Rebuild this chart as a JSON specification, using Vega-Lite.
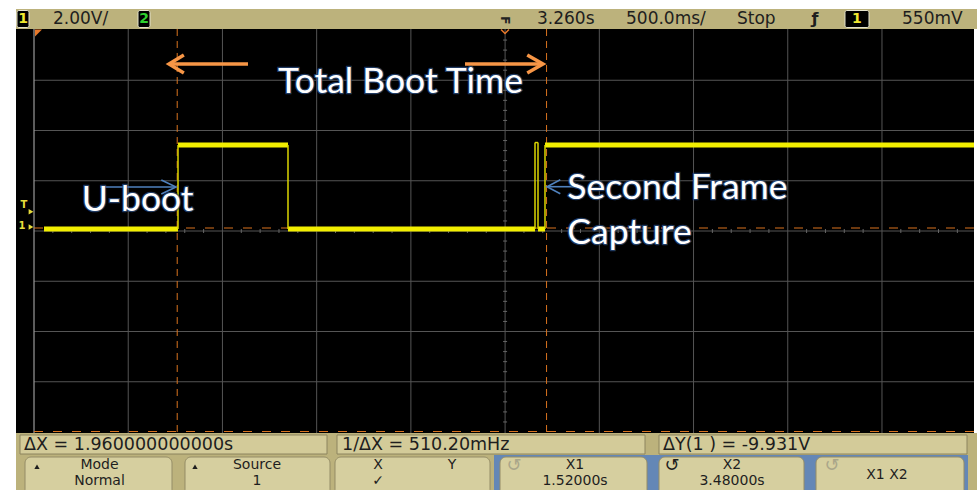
{
  "$schema": "https://vega.github.io/schema/vega-lite/v6.json",
  "width": 977,
  "height": 490,
  "autosize": {"type": "none"},
  "padding": 0,
  "background": "#ffffff",
  "config": {"view": {"stroke": null}},
  "datasets": {
    "bars": [
      {"t": 0.66448, "t2": 5.76424, "v": 8.756, "v2": 7.960},
      {"t": 0.66448, "t2": 5.76424, "v": -8.120, "v2": -10.6}
    ],
    "screen": [{"t": 0.66448, "t2": 5.74833, "v": 7.960, "v2": -8.120}],
    "grid": [
      {"t": 1.26, "t2": 1.26, "v": -8.12, "v2": 7.96},
      {"t": 1.76, "t2": 1.76, "v": -8.12, "v2": 7.96},
      {"t": 2.26, "t2": 2.26, "v": -8.12, "v2": 7.96},
      {"t": 2.76, "t2": 2.76, "v": -8.12, "v2": 7.96},
      {"t": 3.26, "t2": 3.26, "v": -8.12, "v2": 7.96},
      {"t": 3.76, "t2": 3.76, "v": -8.12, "v2": 7.96},
      {"t": 4.26, "t2": 4.26, "v": -8.12, "v2": 7.96},
      {"t": 4.76, "t2": 4.76, "v": -8.12, "v2": 7.96},
      {"t": 5.26, "t2": 5.26, "v": -8.12, "v2": 7.96},
      {"t": 0.76, "t2": 5.748, "v": -6.08, "v2": -6.08},
      {"t": 0.76, "t2": 5.748, "v": -4.08, "v2": -4.08},
      {"t": 0.76, "t2": 5.748, "v": -2.08, "v2": -2.08},
      {"t": 0.76, "t2": 5.748, "v": -0.08, "v2": -0.08},
      {"t": 0.76, "t2": 5.748, "v": 1.92, "v2": 1.92},
      {"t": 0.76, "t2": 5.748, "v": 3.92, "v2": 3.92},
      {"t": 0.76, "t2": 5.748, "v": 5.92, "v2": 5.92}
    ],
    "border": [{"t": 0.76, "t2": 0.76, "v": -8.12, "v2": 7.96}],
    "ticks": [
      {"t": 0.86, "t2": 0.86, "v": -0.16, "v2": 0.0},
      {"t": 0.96, "t2": 0.96, "v": -0.16, "v2": 0.0},
      {"t": 1.06, "t2": 1.06, "v": -0.16, "v2": 0.0},
      {"t": 1.16, "t2": 1.16, "v": -0.16, "v2": 0.0},
      {"t": 1.36, "t2": 1.36, "v": -0.16, "v2": 0.0},
      {"t": 1.46, "t2": 1.46, "v": -0.16, "v2": 0.0},
      {"t": 1.56, "t2": 1.56, "v": -0.16, "v2": 0.0},
      {"t": 1.66, "t2": 1.66, "v": -0.16, "v2": 0.0},
      {"t": 1.86, "t2": 1.86, "v": -0.16, "v2": 0.0},
      {"t": 1.96, "t2": 1.96, "v": -0.16, "v2": 0.0},
      {"t": 2.06, "t2": 2.06, "v": -0.16, "v2": 0.0},
      {"t": 2.16, "t2": 2.16, "v": -0.16, "v2": 0.0},
      {"t": 2.36, "t2": 2.36, "v": -0.16, "v2": 0.0},
      {"t": 2.46, "t2": 2.46, "v": -0.16, "v2": 0.0},
      {"t": 2.56, "t2": 2.56, "v": -0.16, "v2": 0.0},
      {"t": 2.66, "t2": 2.66, "v": -0.16, "v2": 0.0},
      {"t": 2.86, "t2": 2.86, "v": -0.16, "v2": 0.0},
      {"t": 2.96, "t2": 2.96, "v": -0.16, "v2": 0.0},
      {"t": 3.06, "t2": 3.06, "v": -0.16, "v2": 0.0},
      {"t": 3.16, "t2": 3.16, "v": -0.16, "v2": 0.0},
      {"t": 3.36, "t2": 3.36, "v": -0.16, "v2": 0.0},
      {"t": 3.46, "t2": 3.46, "v": -0.16, "v2": 0.0},
      {"t": 3.56, "t2": 3.56, "v": -0.16, "v2": 0.0},
      {"t": 3.66, "t2": 3.66, "v": -0.16, "v2": 0.0},
      {"t": 3.86, "t2": 3.86, "v": -0.16, "v2": 0.0},
      {"t": 3.96, "t2": 3.96, "v": -0.16, "v2": 0.0},
      {"t": 4.06, "t2": 4.06, "v": -0.16, "v2": 0.0},
      {"t": 4.16, "t2": 4.16, "v": -0.16, "v2": 0.0},
      {"t": 4.36, "t2": 4.36, "v": -0.16, "v2": 0.0},
      {"t": 4.46, "t2": 4.46, "v": -0.16, "v2": 0.0},
      {"t": 4.56, "t2": 4.56, "v": -0.16, "v2": 0.0},
      {"t": 4.66, "t2": 4.66, "v": -0.16, "v2": 0.0},
      {"t": 4.86, "t2": 4.86, "v": -0.16, "v2": 0.0},
      {"t": 4.96, "t2": 4.96, "v": -0.16, "v2": 0.0},
      {"t": 5.06, "t2": 5.06, "v": -0.16, "v2": 0.0},
      {"t": 5.16, "t2": 5.16, "v": -0.16, "v2": 0.0},
      {"t": 5.36, "t2": 5.36, "v": -0.16, "v2": 0.0},
      {"t": 5.46, "t2": 5.46, "v": -0.16, "v2": 0.0},
      {"t": 5.56, "t2": 5.56, "v": -0.16, "v2": 0.0},
      {"t": 5.66, "t2": 5.66, "v": -0.16, "v2": 0.0},
      {"t": 3.2494, "t2": 3.2706, "v": -7.68, "v2": -7.68},
      {"t": 3.2494, "t2": 3.2706, "v": -7.28, "v2": -7.28},
      {"t": 3.2494, "t2": 3.2706, "v": -6.88, "v2": -6.88},
      {"t": 3.2494, "t2": 3.2706, "v": -6.48, "v2": -6.48},
      {"t": 3.2494, "t2": 3.2706, "v": -5.68, "v2": -5.68},
      {"t": 3.2494, "t2": 3.2706, "v": -5.28, "v2": -5.28},
      {"t": 3.2494, "t2": 3.2706, "v": -4.88, "v2": -4.88},
      {"t": 3.2494, "t2": 3.2706, "v": -4.48, "v2": -4.48},
      {"t": 3.2494, "t2": 3.2706, "v": -3.68, "v2": -3.68},
      {"t": 3.2494, "t2": 3.2706, "v": -3.28, "v2": -3.28},
      {"t": 3.2494, "t2": 3.2706, "v": -2.88, "v2": -2.88},
      {"t": 3.2494, "t2": 3.2706, "v": -2.48, "v2": -2.48},
      {"t": 3.2494, "t2": 3.2706, "v": -1.68, "v2": -1.68},
      {"t": 3.2494, "t2": 3.2706, "v": -1.28, "v2": -1.28},
      {"t": 3.2494, "t2": 3.2706, "v": -0.88, "v2": -0.88},
      {"t": 3.2494, "t2": 3.2706, "v": -0.48, "v2": -0.48},
      {"t": 3.2494, "t2": 3.2706, "v": 0.32, "v2": 0.32},
      {"t": 3.2494, "t2": 3.2706, "v": 0.72, "v2": 0.72},
      {"t": 3.2494, "t2": 3.2706, "v": 1.12, "v2": 1.12},
      {"t": 3.2494, "t2": 3.2706, "v": 1.52, "v2": 1.52},
      {"t": 3.2494, "t2": 3.2706, "v": 2.32, "v2": 2.32},
      {"t": 3.2494, "t2": 3.2706, "v": 2.72, "v2": 2.72},
      {"t": 3.2494, "t2": 3.2706, "v": 3.12, "v2": 3.12},
      {"t": 3.2494, "t2": 3.2706, "v": 3.52, "v2": 3.52},
      {"t": 3.2494, "t2": 3.2706, "v": 4.32, "v2": 4.32},
      {"t": 3.2494, "t2": 3.2706, "v": 4.72, "v2": 4.72},
      {"t": 3.2494, "t2": 3.2706, "v": 5.12, "v2": 5.12},
      {"t": 3.2494, "t2": 3.2706, "v": 5.52, "v2": 5.52},
      {"t": 3.2494, "t2": 3.2706, "v": 6.32, "v2": 6.32},
      {"t": 3.2494, "t2": 3.2706, "v": 6.72, "v2": 6.72},
      {"t": 3.2494, "t2": 3.2706, "v": 7.12, "v2": 7.12},
      {"t": 3.2494, "t2": 3.2706, "v": 7.52, "v2": 7.52}
    ],
    "cursorsV": [
      {"t": 1.52, "t2": 1.52, "v": 7.96, "v2": -8.12},
      {"t": 3.48, "t2": 3.48, "v": 7.96, "v2": -8.12}
    ],
    "cursorsH": [
      {"t": 0.76, "t2": 5.748, "v": 0.04, "v2": 0.04},
      {"t": 0.76, "t2": 5.748, "v": -8.06, "v2": -8.06}
    ],
    "traceFlat": [
      {"t": 0.8131, "t2": 1.5242, "v": 0.0, "v2": 0.0},
      {"t": 1.5242, "t2": 2.1079, "v": 3.343, "v2": 3.343},
      {"t": 2.1079, "t2": 3.4187, "v": 0.0, "v2": 0.0},
      {"t": 3.4346, "t2": 3.4717, "v": 0.0, "v2": 0.0},
      {"t": 3.4717, "t2": 5.7483, "v": 3.343, "v2": 3.343}
    ],
    "traceEdge": [
      {"t": 1.5242, "t2": 1.5242, "v": 0.0, "v2": 3.343},
      {"t": 2.1079, "t2": 2.1079, "v": 3.343, "v2": 0.0},
      {"t": 3.4187, "t2": 3.4187, "v": 0.0, "v2": 3.44},
      {"t": 3.4187, "t2": 3.4346, "v": 3.44, "v2": 3.44},
      {"t": 3.4346, "t2": 3.4346, "v": 3.44, "v2": 0.0},
      {"t": 3.4717, "t2": 3.4717, "v": 0.0, "v2": 3.343}
    ],
    "leftMarks": [
      {"t": 0.70693, "v": 0.96, "label": "T"},
      {"t": 0.69632, "v": 0.10, "label": "1"}
    ],
    "leftArrows": [
      {"t": 0.74408, "v": 0.69},
      {"t": 0.74408, "v": 0.08}
    ],
    "corner": [{"t": 0.7653, "v": 7.94}],
    "refMark": [{"t": 3.25948, "v": 7.86}],
    "refGlyph": [{"t": 3.25948, "v": 8.30, "label": "F"}],
    "orangeLines": [
      {"t": 1.4923, "t2": 1.8956, "v": 6.567, "v2": 6.567},
      {"t": 3.0472, "t2": 3.4505, "v": 6.567, "v2": 6.567}
    ],
    "orangeHeadL": [{"t": 1.4764, "v": 6.567}],
    "orangeHeadR": [{"t": 3.4611, "v": 6.567}],
    "blueLines": [
      {"t": 1.11024, "t2": 1.50826, "v": 1.671, "v2": 1.671},
      {"t": 3.48765, "t2": 3.63094, "v": 1.683, "v2": 1.683}
    ],
    "blueHeadR": [{"t": 1.51356, "v": 1.671}],
    "blueHeadL": [{"t": 3.48234, "v": 1.683}],
    "notes": [
      {"t": 2.05484, "v": 5.424, "label": "Total Boot Time"},
      {"t": 1.01313, "v": 0.716, "label": "U-boot"},
      {"t": 3.59009, "v": 1.182, "label": "Second Frame"},
      {"t": 3.59009, "v": -0.597, "label": "Capture"}
    ],
    "topBoxes": [
      {"t": 0.66978, "t2": 0.73347, "v": 8.696, "v2": 8.019},
      {"t": 1.3119, "t2": 1.37558, "v": 8.696, "v2": 8.019},
      {"t": 5.06372, "t2": 5.19108, "v": 8.696, "v2": 8.019}
    ],
    "topNums": [
      {"t": 0.70163, "v": 8.358, "label": "1", "channel": "1"},
      {"t": 1.34374, "v": 8.358, "label": "2", "channel": "2"},
      {"t": 5.1274, "v": 8.358, "label": "1", "channel": "1"}
    ],
    "topText": [
      {"t": 0.86083, "v": 8.338, "label": "2.00V/"},
      {"t": 3.42932, "v": 8.338, "label": "3.260s"},
      {"t": 3.90158, "v": 8.338, "label": "500.0ms/"},
      {"t": 4.49063, "v": 8.338, "label": "Stop"},
      {"t": 5.36621, "v": 8.338, "label": "550mV"}
    ],
    "slope": [{"t": 4.9043, "v": 8.358, "label": "ƒ"}],
    "measBoxes": [
      {"t": 0.68571, "t2": 2.31488, "v": -8.199, "v2": -8.956},
      {"t": 2.36795, "t2": 4.00243, "v": -8.199, "v2": -8.956},
      {"t": 4.07672, "t2": 5.71122, "v": -8.199, "v2": -8.956}
    ],
    "measText": [
      {"t": 0.70693, "v": -8.578, "label": "ΔX = 1.960000000000s"},
      {"t": 2.39448, "v": -8.578, "label": "1/ΔX = 510.20mHz"},
      {"t": 4.09795, "v": -8.578, "label": "ΔY(1 ) = -9.931V"}
    ],
    "frame": [{"t": 3.20111, "t2": 5.71652, "v": -8.995, "v2": -10.6}],
    "buttons": [
      {"t": 0.71224, "t2": 1.49233, "v": -9.075, "v2": -10.6},
      {"t": 1.5613, "t2": 2.33079, "v": -9.075, "v2": -10.6},
      {"t": 2.35732, "t2": 3.17988, "v": -9.075, "v2": -10.6},
      {"t": 3.23295, "t2": 4.01304, "v": -9.075, "v2": -10.6},
      {"t": 4.07672, "t2": 4.84623, "v": -9.075, "v2": -10.6},
      {"t": 4.90991, "t2": 5.6953, "v": -9.075, "v2": -10.6}
    ],
    "buttonText": [
      {"t": 1.10759, "v": -9.393, "label": "Mode"},
      {"t": 1.10759, "v": -10.03, "label": "Normal"},
      {"t": 1.9434, "v": -9.393, "label": "Source"},
      {"t": 1.9434, "v": -10.03, "label": "1"},
      {"t": 2.58551, "v": -9.393, "label": "X"},
      {"t": 2.97821, "v": -9.393, "label": "Y"},
      {"t": 2.58551, "v": -10.03, "label": "✓"},
      {"t": 3.63094, "v": -9.393, "label": "X1"},
      {"t": 3.63094, "v": -10.03, "label": "1.52000s"},
      {"t": 4.46409, "v": -9.393, "label": "X2"},
      {"t": 4.46409, "v": -10.03, "label": "3.48000s"},
      {"t": 5.28664, "v": -9.791, "label": "X1 X2"}
    ],
    "iconsOff": [
      {"t": 3.30723, "v": -9.43, "label": "↺"},
      {"t": 4.99477, "v": -9.43, "label": "↺"}
    ],
    "iconsOn": [
      {"t": 4.14569, "v": -9.43, "label": "↺"}
    ],
    "ups": [
      {"t": 0.77592, "v": -9.46},
      {"t": 1.61438, "v": -9.46}
    ]
  },
  "encoding": {
    "x": {"field": "t", "type": "quantitative", "scale": {"domain": [0.57957, 5.76424], "nice": false, "zero": false}, "axis": null},
    "y": {"field": "v", "type": "quantitative", "scale": {"domain": [-10.388, 9.114], "nice": false, "zero": false}, "axis": null}
  },
  "layer": [
    {"data": {"name": "bars"}, "mark": {"type": "rect", "fill": "#bcb27c"}, "encoding": {"x2": {"field": "t2"}, "y2": {"field": "v2"}}},
    {"data": {"name": "screen"}, "mark": {"type": "rect", "fill": "#000000"}, "encoding": {"x2": {"field": "t2"}, "y2": {"field": "v2"}}},
    {"data": {"name": "grid"}, "mark": {"type": "rule", "stroke": "#555555", "strokeWidth": 1}, "encoding": {"x2": {"field": "t2"}, "y2": {"field": "v2"}}},
    {"data": {"name": "border"}, "mark": {"type": "rule", "stroke": "#9a9a9a", "strokeWidth": 1.2}, "encoding": {"x2": {"field": "t2"}, "y2": {"field": "v2"}}},
    {"data": {"name": "ticks"}, "mark": {"type": "rule", "stroke": "#666666", "strokeWidth": 1}, "encoding": {"x2": {"field": "t2"}, "y2": {"field": "v2"}}},
    {"data": {"name": "cursorsV"}, "mark": {"type": "rule", "stroke": "#d9731f", "strokeWidth": 1, "strokeDash": [7, 5]}, "encoding": {"x2": {"field": "t2"}, "y2": {"field": "v2"}}},
    {"data": {"name": "cursorsH"}, "mark": {"type": "rule", "stroke": "#d9731f", "strokeWidth": 1.2, "strokeDash": [9, 10]}, "encoding": {"x2": {"field": "t2"}, "y2": {"field": "v2"}}},
    {"data": {"name": "traceFlat"}, "mark": {"type": "rule", "stroke": "#f2ee00", "strokeWidth": 5}, "encoding": {"x2": {"field": "t2"}, "y2": {"field": "v2"}}},
    {"data": {"name": "traceEdge"}, "mark": {"type": "rule", "stroke": "#dcd600", "strokeWidth": 1.5}, "encoding": {"x2": {"field": "t2"}, "y2": {"field": "v2"}}},
    {"data": {"name": "leftMarks"}, "mark": {"type": "text", "font": "DejaVu Sans", "fontSize": 10, "fontWeight": "bold", "fill": "#e6dc3c", "align": "center", "baseline": "middle"}, "encoding": {"text": {"field": "label"}}},
    {"data": {"name": "leftArrows"}, "mark": {"type": "point", "shape": "triangle-right", "size": 30, "filled": true, "fill": "#e6dc3c", "opacity": 1}},
    {"data": {"name": "corner"}, "mark": {"type": "point", "shape": "M 0 0 L 1 0 L 0 1 Z", "size": 196, "filled": true, "fill": "#e8782a", "opacity": 1}},
    {"data": {"name": "refMark"}, "mark": {"type": "point", "shape": "M -1 -0.5 L 0 0.5 L 1 -0.5", "size": 64, "filled": false, "stroke": "#e8782a", "strokeWidth": 1.5, "opacity": 1}},
    {"data": {"name": "refGlyph"}, "mark": {"type": "text", "font": "DejaVu Sans", "fontSize": 12, "fontWeight": "bold", "fill": "#222222", "angle": 90, "align": "center", "baseline": "middle"}, "encoding": {"text": {"field": "label"}}},
    {"data": {"name": "orangeLines"}, "mark": {"type": "rule", "stroke": "#F79646", "strokeWidth": 3.5}, "encoding": {"x2": {"field": "t2"}, "y2": {"field": "v2"}}},
    {"data": {"name": "orangeHeadL"}, "mark": {"type": "point", "shape": "M 1.65 -1 L 0 0 L 1.65 1", "size": 324, "filled": false, "stroke": "#F79646", "strokeWidth": 3.5, "opacity": 1}},
    {"data": {"name": "orangeHeadR"}, "mark": {"type": "point", "shape": "M -1.75 -1 L 0 0 L -1.75 1", "size": 324, "filled": false, "stroke": "#F79646", "strokeWidth": 3.5, "opacity": 1}},
    {"data": {"name": "blueLines"}, "mark": {"type": "rule", "stroke": "#4F81BD", "strokeWidth": 1.6}, "encoding": {"x2": {"field": "t2"}, "y2": {"field": "v2"}}},
    {"data": {"name": "blueHeadR"}, "mark": {"type": "point", "shape": "M -2.1 -1 L 0 0 L -2.1 1", "size": 196, "filled": false, "stroke": "#4F81BD", "strokeWidth": 1.6, "opacity": 1}},
    {"data": {"name": "blueHeadL"}, "mark": {"type": "point", "shape": "M 1.9 -1 L 0 0 L 1.9 1", "size": 196, "filled": false, "stroke": "#4F81BD", "strokeWidth": 1.6, "opacity": 1}},
    {"data": {"name": "notes"}, "mark": {"type": "text", "font": "Lato", "fontSize": 35.5, "fill": "#2a4a7a", "stroke": "#2a4a7a", "strokeWidth": 2.5, "strokeOpacity": 0.8, "align": "left", "baseline": "alphabetic"}, "encoding": {"text": {"field": "label"}}},
    {"data": {"name": "notes"}, "mark": {"type": "text", "font": "Lato", "fontSize": 35.5, "fill": "#ffffff", "align": "left", "baseline": "alphabetic"}, "encoding": {"text": {"field": "label"}}},
    {"data": {"name": "topBoxes"}, "mark": {"type": "rect", "fill": "#000000", "stroke": "#e4e2cc", "strokeWidth": 1, "cornerRadius": 2}, "encoding": {"x2": {"field": "t2"}, "y2": {"field": "v2"}}},
    {"data": {"name": "topNums"}, "mark": {"type": "text", "font": "DejaVu Sans", "fontSize": 14, "fontWeight": "bold", "align": "center", "baseline": "middle"}, "encoding": {"text": {"field": "label"}, "color": {"field": "channel", "type": "nominal", "scale": {"domain": ["1", "2"], "range": ["#f0e830", "#2ed02e"]}, "legend": null}}},
    {"data": {"name": "topText"}, "mark": {"type": "text", "font": "DejaVu Sans", "fontSize": 17, "fill": "#1e1e1e", "align": "left", "baseline": "middle"}, "encoding": {"text": {"field": "label"}}},
    {"data": {"name": "slope"}, "mark": {"type": "text", "font": "DejaVu Sans", "fontSize": 16, "fontWeight": "bold", "fill": "#1e1e1e", "align": "center", "baseline": "middle"}, "encoding": {"text": {"field": "label"}}},
    {"data": {"name": "measBoxes"}, "mark": {"type": "rect", "fill": "#d3cb99", "stroke": "#8c845e", "strokeWidth": 1}, "encoding": {"x2": {"field": "t2"}, "y2": {"field": "v2"}}},
    {"data": {"name": "measText"}, "mark": {"type": "text", "font": "DejaVu Sans", "fontSize": 17.5, "fill": "#1e1e1e", "align": "left", "baseline": "middle"}, "encoding": {"text": {"field": "label"}}},
    {"data": {"name": "frame"}, "mark": {"type": "rect", "fill": "#6487b6"}, "encoding": {"x2": {"field": "t2"}, "y2": {"field": "v2"}}},
    {"data": {"name": "buttons"}, "mark": {"type": "rect", "fill": "#d6cf9f", "stroke": "#948c66", "strokeWidth": 1, "cornerRadius": 6}, "encoding": {"x2": {"field": "t2"}, "y2": {"field": "v2"}}},
    {"data": {"name": "buttonText"}, "mark": {"type": "text", "font": "DejaVu Sans", "fontSize": 14, "fill": "#1e1e1e", "align": "center", "baseline": "middle"}, "encoding": {"text": {"field": "label"}}},
    {"data": {"name": "iconsOff"}, "mark": {"type": "text", "font": "DejaVu Sans", "fontSize": 18, "fill": "#aaa68a", "align": "center", "baseline": "middle"}, "encoding": {"text": {"field": "label"}}},
    {"data": {"name": "iconsOn"}, "mark": {"type": "text", "font": "DejaVu Sans", "fontSize": 18, "fill": "#1e1e1e", "align": "center", "baseline": "middle"}, "encoding": {"text": {"field": "label"}}},
    {"data": {"name": "ups"}, "mark": {"type": "point", "shape": "triangle-up", "size": 28, "filled": true, "fill": "#1e1e1e", "opacity": 1}}
  ]
}
